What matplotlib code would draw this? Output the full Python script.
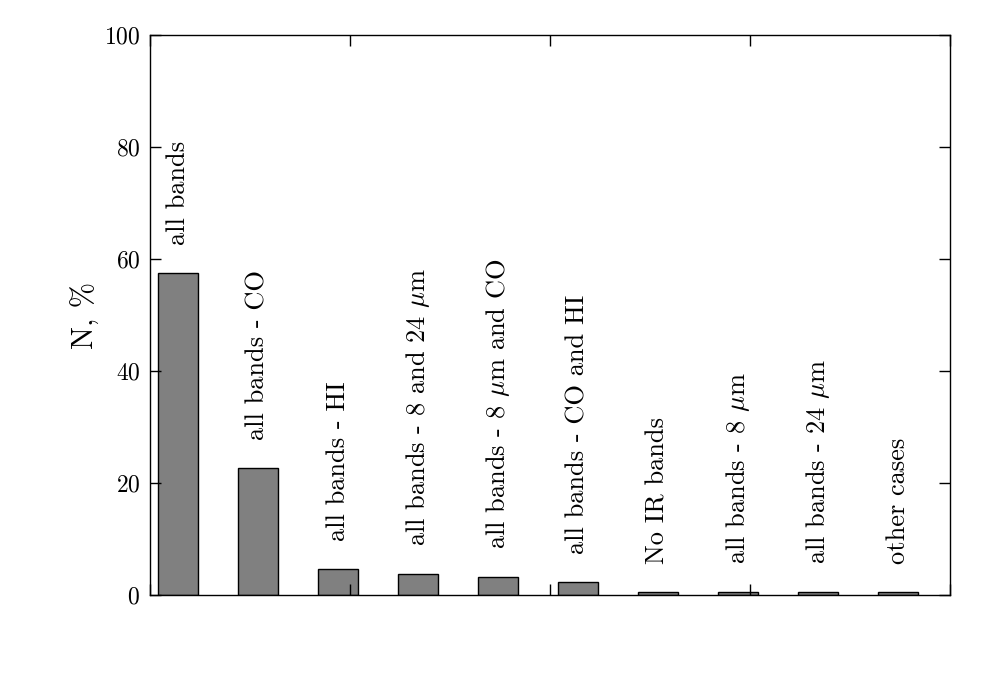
import matplotlib
matplotlib.use('Agg')
import matplotlib.pyplot as plt

plt.rcParams['font.family'] = 'serif'
plt.rcParams['font.serif'] = ['cmr10']
plt.rcParams['mathtext.fontset'] = 'cm'
plt.rcParams['axes.formatter.use_mathtext'] = True

# categories and share of sources, %
labels = ['all bands', 'all bands - CO', 'all bands - HI',
          r'all bands - 8 and 24 $\mu$m', r'all bands - 8 $\mu$m and CO',
          'all bands - CO and HI', 'No IR bands', r'all bands - 8 $\mu$m',
          r'all bands - 24 $\mu$m', 'other cases']
percent = [57.5, 22.7, 4.6, 3.7, 3.2, 2.3, 0.5, 0.5, 0.5, 0.5]

fig = plt.figure(figsize=(10, 7), dpi=100)
ax = fig.add_axes([0.15, 0.15, 0.80, 0.80])

pos = [i + 0.1 for i in range(len(percent))]
ax.bar(pos, percent, width=0.5, align='edge', color='grey',
       edgecolor='black', linewidth=1.0)

for p, v, lab in zip(pos, percent, labels):
    ax.text(p + 0.25, v + 5, lab, rotation=90, ha='center', va='bottom',
            fontsize=19)

ax.set_xlim(0, 10)
ax.set_ylim(0, 100)
ax.set_xticks([0, 2.5, 5, 7.5, 10])
ax.set_xticklabels([])
ax.set_yticks([0, 20, 40, 60, 80, 100])
ax.tick_params(direction='in', top=True, right=True, length=8, width=1,
               labelsize=17, pad=7)
ax.set_ylabel('N, %', fontsize=22, labelpad=3)
for s in ax.spines.values():
    s.set_linewidth(1.0)

fig.savefig('out.png', dpi=100)
